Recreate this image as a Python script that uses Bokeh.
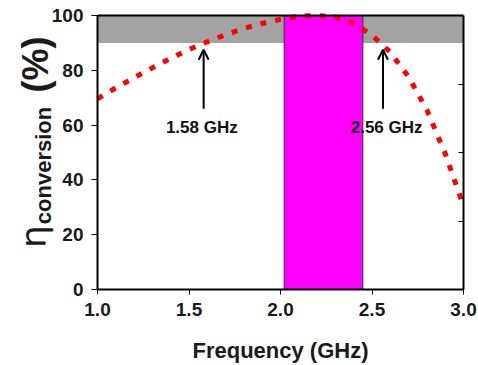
import math
from bokeh.plotting import figure
from bokeh.models import (Label, Arrow, OpenHead, FixedTicker, LinearAxis, Range1d)
from bokeh.embed import file_html
from bokeh.resources import INLINE

freq = [1.0, 1.1, 1.2, 1.3, 1.4, 1.5, 1.6, 1.7, 1.8, 1.9, 2.0, 2.1, 2.2, 2.3, 2.4, 2.5, 2.6, 2.7, 2.8, 2.9, 3.0]
eff = [69.6, 73.6, 77.3, 80.9, 84.4, 87.6, 90.4, 93.0, 95.3, 97.1, 98.6, 99.7, 100.0, 99.5, 97.2, 92.8, 86.6, 77.6, 65.5, 49.6, 30.5]

x_min, x_max = 1.0, 3.0
y_min, y_max = 0, 100
band_low, band_high = 90, 100
pass_left, pass_right = 2.02, 2.45
marker_freqs = [1.58, 2.56]
marker_labels = ["1.58 GHz", "2.56 GHz"]
x_ticks = [1.0, 1.5, 2.0, 2.5, 3.0]
x_tick_labels = ["1.0", "1.5", "2.0", "2.5", "3.0"]
y_ticks = [0, 20, 40, 60, 80, 100]
right_ticks = [25, 50, 75]
x_title = "Frequency (GHz)"
y_label_parts = ["η", "conversion", "(%)"]

FONT = "Liberation Sans"
W, H = 478, 365
LEFT_PX, RIGHT_PX, TOP_PX, BOTTOM_PX = 97, 15, 15, 76   # plot-box edges inside the canvas
px_per_x = (W - RIGHT_PX - LEFT_PX) / (x_max - x_min)
px_per_y = (H - BOTTOM_PX - TOP_PX) / (y_max - y_min)
# frame covers the whole canvas; axes are pinned at the plot-box edges
x_lo = x_min - LEFT_PX / px_per_x
x_hi = x_max + RIGHT_PX / px_per_x
y_lo = y_min - BOTTOM_PX / px_per_y
y_hi = y_max + TOP_PX / px_per_y

p = figure(width=W, height=H, output_backend="svg", toolbar_location=None,
           x_range=Range1d(x_lo, x_hi), y_range=Range1d(y_lo, y_hi),
           x_axis_location=None, y_axis_location=None,
           min_border_left=0, min_border_right=0, min_border_top=0, min_border_bottom=0)
p.grid.visible = False
p.outline_line_color = None
p.background_fill_color = "white"
p.border_fill_color = "white"

p.quad(left=[x_min], right=[x_max], bottom=[band_low], top=[band_high],
       fill_color="#a3a3a3", line_color=None)
p.quad(left=[pass_left], right=[pass_right], bottom=[y_min], top=[y_max],
       fill_color="#ff00ff", line_color="#333333", line_width=1)
p.line(freq, eff, line_color="#ff0000", line_width=5, line_dash="6 9")
# top border of plot box
p.line([x_min, x_max], [y_max, y_max], line_color="black", line_width=2)

def style_labels(ax):
    ax.major_label_text_font = FONT
    ax.major_label_text_font_style = "bold"
    ax.major_label_text_font_size = "19px"
    ax.major_label_text_color = "#1a1a1a"
    ax.minor_tick_line_color = None
    ax.axis_line_width = 2

xa = LinearAxis(fixed_location=y_min, bounds=(x_min, x_max), ticker=FixedTicker(ticks=x_ticks))
xa.major_label_overrides = {t: l for t, l in zip(x_ticks, x_tick_labels)}
style_labels(xa)
xa.major_tick_out = 5
xa.major_tick_in = 0
xa.major_label_standoff = 8
p.add_layout(xa, "below")

ya = LinearAxis(fixed_location=x_min, bounds=(y_min, y_max), ticker=FixedTicker(ticks=y_ticks))
style_labels(ya)
ya.major_tick_out = 6
ya.major_tick_in = 0
ya.major_label_standoff = 8
p.add_layout(ya, "left")

ra = LinearAxis(fixed_location=x_max, bounds=(y_min, y_max), ticker=FixedTicker(ticks=right_ticks))
ra.major_label_overrides = {t: "" for t in right_ticks}
ra.major_label_text_alpha = 0
ra.major_label_standoff = 0
ra.major_tick_in = 5
ra.major_tick_out = 0
ra.minor_tick_line_color = None
ra.axis_line_width = 2
p.add_layout(ra, "right")

def cx(px):
    return x_min + (px - LEFT_PX) / px_per_x
def cy(py):
    return y_min + (H - BOTTOM_PX - py) / px_per_y

# x-axis title
p.add_layout(Label(x=cx(280), y=cy(350), text=x_title, text_font=FONT,
                   text_font_size="22px", text_font_style="bold",
                   text_align="center", text_baseline="middle", text_color="#1a1a1a"))

# composite rotated y label: eta + subscript "conversion" + (%)
rot = math.pi / 2
p.add_layout(Label(x=cx(33), y=cy(236), text=y_label_parts[0], angle=rot,
                   text_font="DejaVu Sans", text_font_size="36px",
                   text_align="center", text_baseline="alphabetic", text_color="#1a1a1a"))
p.add_layout(Label(x=cx(43), y=cy(165), text=y_label_parts[1], angle=rot,
                   text_font=FONT, text_font_size="22px", text_font_style="bold",
                   text_align="center", text_baseline="alphabetic", text_color="#1a1a1a"))
p.add_layout(Label(x=cx(34.5), y=cy(64), text=y_label_parts[2], angle=rot,
                   text_font=FONT, text_font_size="36px", text_font_style="bold",
                   text_align="center", text_baseline="alphabetic", text_color="#1a1a1a"))

for f in marker_freqs:
    p.add_layout(Arrow(end=OpenHead(size=10, line_width=2, line_color="black"),
                       x_start=f, y_start=66, x_end=f, y_end=87.5,
                       line_width=2, line_color="black"))
lab_x = [1.57, 2.58]
for lx, lab in zip(lab_x, marker_labels):
    p.add_layout(Label(x=lx, y=59, text=lab, text_font=FONT, text_font_size="17px",
                       text_font_style="bold", text_align="center", text_baseline="middle",
                       text_color="#111111"))

open("out.html", "w").write(file_html(p, INLINE))
